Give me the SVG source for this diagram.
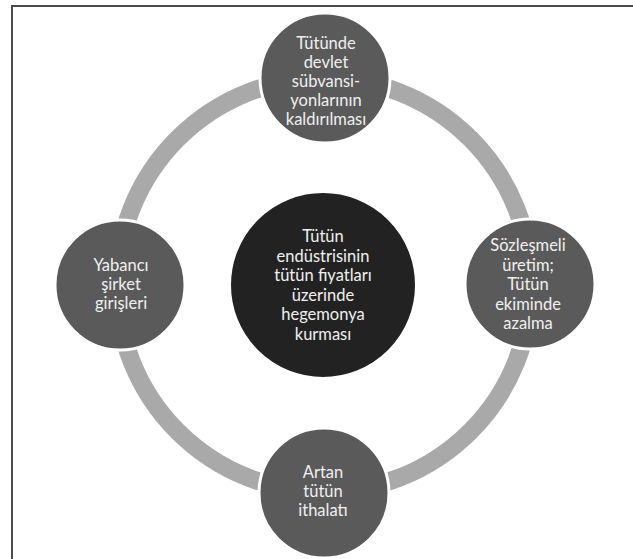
<svg xmlns="http://www.w3.org/2000/svg" width="633" height="559" viewBox="0 0 633 559">
<style>
.frame{fill:none;stroke:#4a4a4a;stroke-width:2}
.ring{fill:none;stroke:#a9a9a9;stroke-width:18}
.node{fill:#5a5a5a;stroke:#ffffff;stroke-width:3}
.core{fill:#222222;stroke:#ffffff;stroke-width:2}
text{font-family:Lato,"Open Sans","DejaVu Sans",sans-serif;font-size:16.5px;fill:#f0f0f0;text-anchor:middle}
</style>
<rect x="0" y="0" width="633" height="559" fill="#ffffff"/>
<path class="frame" d="M12 559 V6 H633"/>
<g id="connectors">
<circle class="ring" cx="324" cy="285" r="207"/>
</g>
<g id="node-center">
<circle class="core" cx="323" cy="285" r="93"/>
<text x="323" y="242">Tütün</text>
<text x="323" y="261.5">endüstrisinin</text>
<text x="323" y="281">tütün fiyatları</text>
<text x="323" y="300.5">üzerinde</text>
<text x="323" y="320">hegemonya</text>
<text x="323" y="339.5">kurması</text>
</g>
<g id="node-top">
<circle class="node" cx="325" cy="78" r="65"/>
<text x="326" y="49">Tütünde</text>
<text x="326" y="68">devlet</text>
<text x="326" y="87">sübvansi-</text>
<text x="326" y="106">yonlarının</text>
<text x="326" y="125">kaldırılması</text>
</g>
<g id="node-right">
<circle class="node" cx="530" cy="284" r="65"/>
<text x="528" y="251">Sözleşmeli</text>
<text x="528" y="270.5">üretim;</text>
<text x="528" y="290">Tütün</text>
<text x="528" y="309.5">ekiminde</text>
<text x="528" y="329">azalma</text>
</g>
<g id="node-left">
<circle class="node" cx="120" cy="285" r="65"/>
<text x="121" y="271">Yabancı</text>
<text x="121" y="290">şirket</text>
<text x="121" y="309">girişleri</text>
</g>
<g id="node-bottom">
<circle class="node" cx="324" cy="493" r="65"/>
<text x="323" y="478">Artan</text>
<text x="323" y="497">tütün</text>
<text x="323" y="516">ithalatı</text>
</g>
</svg>
